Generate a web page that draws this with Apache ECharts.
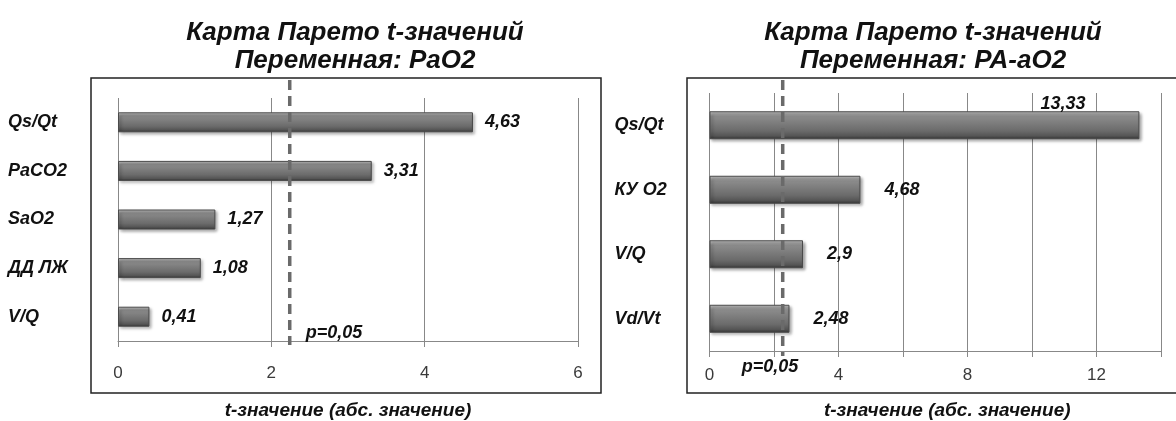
<!DOCTYPE html>
<html>
<head>
<meta charset="utf-8">
<script src="https://cdn.jsdelivr.net/npm/echarts@6/dist/echarts.min.js"></script>
<style>
  html, body { margin: 0; padding: 0; background: #fff; }
  #chart { width: 1176px; height: 421px; }
</style>
</head>
<body>
<div id="chart"></div>
<script>
const leftCategories = ["Qs/Qt", "PaCO2", "SaO2", "ДД ЛЖ", "V/Q"];
const leftValues = [4.63, 3.31, 1.27, 1.08, 0.41];
const leftCritical = 2.24;

const rightCategories = ["Qs/Qt", "КУ О2", "V/Q", "Vd/Vt"];
const rightValues = [13.33, 4.68, 2.9, 2.48];
const rightCritical = 2.27;

const leftTitle = "Карта Парето t-значений\nПеременная: PaO2";
const rightTitle = "Карта Парето t-значений\nПеременная: PA-aO2";
const axisTitle = "t-значение (абс. значение)";
const pLabel = "p=0,05";

const FONT = "'Liberation Sans', Arial, sans-serif";
const fmt = (v) => String(v).replace(".", ",");

const chart = echarts.init(document.getElementById("chart"));

const barStyle = {
  color: new echarts.graphic.LinearGradient(0, 0, 0, 1, [
    { offset: 0, color: "#c4c4c4" },
    { offset: 0.18, color: "#8c8c8c" },
    { offset: 0.7, color: "#6b6b6b" },
    { offset: 0.88, color: "#555555" },
    { offset: 1, color: "#333333" },
  ]),
  borderColor: "#4a4a4a",
  borderWidth: 1,
  shadowBlur: 3,
  shadowOffsetX: 2,
  shadowOffsetY: 2,
  shadowColor: "rgba(0,0,0,0.35)",
};

const valueLabel = {
  show: true,
  position: "right",
  fontFamily: FONT,
  fontSize: 18,
  fontWeight: "bold",
  fontStyle: "italic",
  color: "#111",
  formatter: (p) => fmt(p.value),
};

const catLabel = {
  fontFamily: FONT,
  fontSize: 18,
  fontWeight: "bold",
  fontStyle: "italic",
  color: "#111",
  align: "left",
};

const gridLine = { show: true, lineStyle: { color: "#888", width: 1 } };

function valueAxis(grid, max, labelMargin, nameGap, labelFormatter, namePad) {
  return {
    type: "value",
    gridIndex: grid,
    min: 0,
    max: max,
    interval: 2,
    axisLine: { show: true, lineStyle: { color: "#888" } },
    axisTick: { show: true, length: 6, lineStyle: { color: "#888" } },
    splitLine: gridLine,
    axisLabel: {
      margin: labelMargin,
      fontFamily: FONT,
      fontSize: 17,
      color: "#3a3a3a",
      formatter: labelFormatter,
    },
    name: axisTitle,
    nameLocation: "middle",
    nameGap: nameGap,
    nameTextStyle: {
      fontFamily: FONT,
      fontSize: 19,
      fontWeight: "bold",
      fontStyle: "italic",
      color: "#111",
      padding: namePad,
    },
  };
}

const titleStyle = {
  fontFamily: FONT,
  fontSize: 26,
  fontWeight: "bold",
  fontStyle: "italic",
  color: "#111",
  lineHeight: 28,
};

chart.setOption({
  animation: false,
  title: [
    { text: leftTitle, left: 350, top: 14, textAlign: "center", textStyle: titleStyle },
    { text: rightTitle, left: 928, top: 14, textAlign: "center", textStyle: titleStyle },
  ],
  grid: [
    { left: 118, width: 460, top: 98, bottom: 80, containLabel: false, outerBoundsMode: "none" },
    { left: 709.5, width: 451.5, top: 93, bottom: 70, containLabel: false, outerBoundsMode: "none" },
  ],
  xAxis: [
    valueAxis(0, 6, 24, 60, (v) => v, [0, 0, 0, 0]),
    valueAxis(1, 14, 16, 50, (v) => (v % 4 === 0 ? v : ""), [0, 0, 0, 24]),
  ],
  yAxis: [
    {
      type: "category",
      gridIndex: 0,
      inverse: true,
      data: leftCategories,
      axisLine: { show: false },
      axisTick: { show: false },
      axisLabel: Object.assign({ margin: 110 }, catLabel),
    },
    {
      type: "category",
      gridIndex: 1,
      inverse: true,
      data: rightCategories,
      axisLine: { show: false },
      axisTick: { show: false },
      axisLabel: Object.assign({ margin: 95 }, catLabel),
    },
  ],
  series: [
    {
      type: "bar",
      xAxisIndex: 0,
      yAxisIndex: 0,
      barWidth: 20,
      data: leftValues,
      itemStyle: barStyle,
      label: Object.assign({}, valueLabel, { distance: 12 }),
    },
    {
      type: "bar",
      xAxisIndex: 1,
      yAxisIndex: 1,
      barWidth: 28,
      // the biggest bar carries its label above, near the end
      data: rightValues.map((v, i) =>
        i === 0 ? { value: v, label: { position: ["77%", -16] } } : v
      ),
      itemStyle: barStyle,
      label: Object.assign({}, valueLabel, { distance: 24 }),
    },
  ],
});

// frames, critical-value dashed lines and their labels
const lx = chart.convertToPixel({ xAxisIndex: 0 }, leftCritical);
const rx = chart.convertToPixel({ xAxisIndex: 1 }, rightCritical);
const dash = { stroke: "#6a6a6a", lineWidth: 3.5, lineDash: [10, 6] };
const pStyle = {
  font: "italic bold 18px " + FONT,
  fill: "#111",
  textVerticalAlign: "middle",
};

chart.setOption({
  graphic: [
    { type: "rect", shape: { x: 91, y: 78, width: 510, height: 315 }, style: { fill: "none", stroke: "#222", lineWidth: 1.5 }, z: 10 },
    { type: "rect", shape: { x: 687, y: 78, width: 500, height: 315 }, style: { fill: "none", stroke: "#222", lineWidth: 1.5 }, z: 10 },
    { type: "line", shape: { x1: lx, y1: 80, x2: lx, y2: 345 }, style: dash, z: 5 },
    { type: "line", shape: { x1: rx, y1: 80, x2: rx, y2: 356 }, style: dash, z: 5 },
    { type: "text", x: lx + 16, y: 333, style: Object.assign({ text: pLabel }, pStyle), z: 6 },
    { type: "text", x: rx - 41, y: 367, style: Object.assign({ text: pLabel }, pStyle), z: 6 },
  ],
});
</script>
</body>
</html>
